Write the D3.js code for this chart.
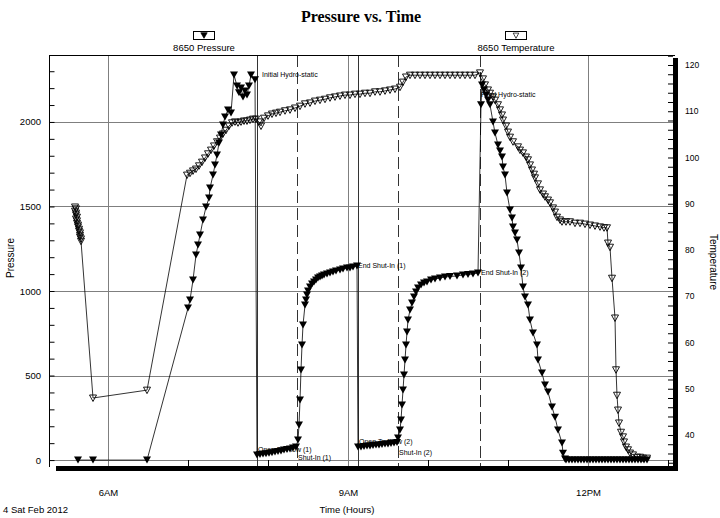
<!DOCTYPE html>
<html>
<head>
<meta charset="utf-8">
<script src="https://cdn.jsdelivr.net/npm/d3@7"></script>
<style>
  body { margin: 0; background: #fff; }
  svg { display: block; font-family: "Liberation Sans", Arial, sans-serif; }
</style>
</head>
<body>
<svg id="chart" width="720" height="518"></svg>
<script>
// time is decimal hours on Sat 4 Feb 2012
const pressure = [
  [5.625, 0], [5.8125, 0], [6.4875, 0],
  [7.0, 899], [7.025, 947], [7.0625, 1065], [7.1, 1213], [7.125, 1272], [7.15, 1331],
  [7.1875, 1420], [7.225, 1497], [7.2625, 1550], [7.275, 1609], [7.3125, 1686],
  [7.3375, 1746], [7.3625, 1805], [7.3875, 1876], [7.4125, 1923], [7.4375, 1982],
  [7.4625, 2030], [7.5, 2071], [7.5375, 2053],
  [7.575, 2278], [7.6125, 2213], [7.6375, 2172], [7.6625, 2201], [7.6875, 2148],
  [7.7125, 2183], [7.7375, 2160], [7.7625, 2213], [7.7875, 2278], [7.8375, 2249],
  [7.8625, 30], [7.9, 33], [7.9375, 36], [7.975, 38], [8.0125, 41], [8.05, 44],
  [8.0875, 47], [8.125, 50], [8.1625, 53], [8.2, 59], [8.2375, 62], [8.275, 65],
  [8.3125, 71], [8.35, 77],
  [8.375, 118], [8.3875, 207], [8.4, 355], [8.4125, 533], [8.425, 680], [8.4375, 799],
  [8.4625, 917], [8.475, 947], [8.4875, 976], [8.5, 1000], [8.525, 1024], [8.55, 1041],
  [8.575, 1053], [8.6, 1065], [8.625, 1077], [8.65, 1083], [8.675, 1089], [8.7, 1095],
  [8.7375, 1101], [8.775, 1107], [8.8125, 1112], [8.85, 1118], [8.9, 1124],
  [8.9375, 1130], [8.9875, 1136], [9.025, 1136], [9.0625, 1142], [9.1125, 1148],
  [9.125, 77], [9.1625, 77], [9.2, 80], [9.2375, 83], [9.275, 83], [9.3125, 86],
  [9.35, 89], [9.3875, 89], [9.425, 92], [9.4625, 95], [9.5, 95], [9.5375, 98],
  [9.575, 101], [9.6125, 104],
  [9.625, 130], [9.65, 178], [9.6625, 237], [9.675, 325], [9.6875, 414], [9.7, 503],
  [9.7125, 592], [9.725, 680], [9.7375, 757], [9.75, 828], [9.775, 888], [9.8, 929],
  [9.825, 964], [9.85, 994], [9.875, 1018], [9.9125, 1035], [9.95, 1047],
  [9.9875, 1053], [10.0375, 1065], [10.0875, 1071], [10.15, 1077], [10.2125, 1083],
  [10.275, 1086], [10.3625, 1089], [10.4375, 1095], [10.5, 1098], [10.5625, 1101],
  [10.625, 1107],
  [10.6625, 2101], [10.675, 2219], [10.7, 2189], [10.725, 2160], [10.75, 2130],
  [10.775, 2101], [10.8125, 2000], [10.8375, 1935], [10.875, 1864], [10.9, 1828],
  [10.925, 1793], [10.9375, 1734], [10.9625, 1686], [10.9875, 1580], [11.025, 1479],
  [11.05, 1432], [11.0625, 1379], [11.0875, 1343], [11.1125, 1302], [11.1375, 1225],
  [11.1625, 1136], [11.1875, 1024], [11.2125, 964], [11.25, 917], [11.275, 828],
  [11.3125, 751], [11.3625, 680], [11.375, 592], [11.425, 515], [11.4625, 444],
  [11.5, 402], [11.55, 314], [11.5875, 254], [11.625, 178], [11.675, 101],
  [11.6875, 41], [11.7125, 6],
  [11.725, 0], [11.7625, 0], [11.8, 0], [11.8375, 0], [11.875, 0], [11.9125, 0],
  [11.95, 0], [11.9875, 0], [12.025, 0], [12.0625, 0], [12.1, 0], [12.1375, 0],
  [12.175, 0], [12.2125, 0], [12.25, 0], [12.2875, 0], [12.325, 0], [12.3625, 0],
  [12.4, 0], [12.4375, 0], [12.475, 0], [12.5125, 0], [12.55, 0], [12.5875, 0],
  [12.625, 0], [12.6625, 0], [12.7, 0], [12.7375, 0],
];

const temperature = [
  [5.5875, 89.3], [5.6, 88.9], [5.5875, 88.4], [5.6, 88.0], [5.6, 87.6], [5.6125, 87.1],
  [5.6, 86.7], [5.6125, 86.3], [5.6125, 85.8], [5.625, 85.4], [5.625, 85.0],
  [5.6375, 84.5], [5.6375, 84.1], [5.65, 83.7], [5.65, 83.2], [5.65, 82.8],
  [5.6625, 82.4], [5.6625, 81.9],
  [5.8125, 48.0], [6.4875, 49.7], [6.9875, 96.2],
  [7.025, 96.6], [7.0625, 97.1], [7.1, 97.5], [7.1375, 98.2], [7.175, 99.0],
  [7.2125, 99.9], [7.25, 100.8], [7.2875, 101.6], [7.325, 102.5], [7.3625, 103.4],
  [7.4, 104.2], [7.4375, 105.1], [7.475, 105.9], [7.5125, 106.8], [7.55, 107.5],
  [7.5875, 107.7], [7.625, 107.5], [7.6625, 107.7], [7.7, 107.9], [7.7375, 107.9],
  [7.775, 108.1], [7.8125, 108.3], [7.85, 108.3], [7.8875, 107.7], [7.9125, 106.8],
  [7.95, 108.5], [8.0, 109.0], [8.05, 109.4], [8.1, 109.6], [8.15, 109.8],
  [8.2125, 110.1], [8.275, 110.3], [8.3375, 110.7], [8.4, 111.1], [8.4625, 111.6],
  [8.525, 111.8], [8.5875, 112.2], [8.65, 112.4], [8.7125, 112.6], [8.775, 112.9],
  [8.8375, 113.1], [8.9, 113.3], [8.9625, 113.5], [9.025, 113.5], [9.0875, 113.7],
  [9.15, 113.7], [9.2125, 113.9], [9.275, 113.9], [9.3375, 114.2], [9.4, 114.2],
  [9.4625, 114.4], [9.525, 114.6], [9.5875, 114.8], [9.65, 115.2], [9.6875, 116.3],
  [9.725, 117.4], [9.775, 117.8],
  [9.8375, 117.8], [9.9, 117.8], [9.9625, 117.8], [10.025, 117.8], [10.0875, 117.8],
  [10.15, 117.8], [10.2125, 117.8], [10.275, 117.8], [10.3375, 117.8], [10.4, 117.8],
  [10.4625, 117.8], [10.525, 117.8], [10.5875, 117.8],
  [10.65, 118.3], [10.6875, 117.0], [10.7125, 115.7], [10.75, 114.6], [10.775, 113.9],
  [10.8125, 113.1], [10.8375, 112.4], [10.875, 111.4], [10.9, 110.3], [10.925, 109.2],
  [10.9375, 108.1], [10.975, 106.8], [11.0, 105.5], [11.025, 104.4], [11.0625, 103.4],
  [11.125, 102.3], [11.15, 101.6], [11.1875, 101.0], [11.225, 100.1], [11.25, 99.5],
  [11.275, 98.4], [11.3, 97.3], [11.325, 96.4], [11.3375, 95.6], [11.375, 94.3],
  [11.4, 93.0], [11.4375, 92.1], [11.4625, 91.5], [11.5, 90.8], [11.525, 90.2],
  [11.5625, 89.1], [11.5875, 88.2], [11.6125, 87.1], [11.65, 86.5], [11.675, 86.1],
  [11.725, 86.1], [11.775, 86.1], [11.8375, 85.8], [11.9, 85.8], [11.9625, 85.6],
  [12.025, 85.4], [12.0875, 85.2], [12.15, 85.0], [12.2, 84.8], [12.2375, 84.8],
  [12.25, 81.5], [12.275, 80.6], [12.3, 73.9], [12.3375, 65.3], [12.35, 54.1],
  [12.3625, 48.6], [12.375, 45.4], [12.3875, 42.6], [12.4125, 40.6], [12.4375, 39.6],
  [12.45, 38.5], [12.475, 37.4], [12.5, 36.8], [12.525, 36.1], [12.5625, 35.7],
  [12.6125, 35.2], [12.65, 35.2], [12.6875, 35.0], [12.7375, 35.0],
];

// test events (vertical markers)
const eventTimes = [7.8625, 8.3625, 9.125, 9.625, 10.65];
const eventKinds = ["flow", "shut", "flow", "shut", "hydro"];

const noteText = [
  "Initial Hydro-static", "Open To Flow (1)", "Shut-In (1)", "End Shut-In (1)",
  "Open To Flow (2)", "Shut-In (2)", "End Shut-In (2)", "Final Hydro-static",
];
const noteTime = [7.8625, 7.8625, 8.3625, 9.1125, 9.125, 9.625, 10.65, 10.65];
const notePressure = [2278, 30, 77, 1148, 77, 104, 1107, 2160];

const pressureTicks = [0, 500, 1000, 1500, 2000];
const tempTicks = [40, 50, 60, 70, 80, 90, 100, 110, 120];
const timeTicks = [6, 9, 12];

const base = new Date(2012, 1, 4);
const toDate = (h) => new Date(+base + h * 36e5);

const plotLeft = 49;
const plotRight = 675;
const plotTop = 55;
const plotBottom = 467;

const x = d3.scaleTime().domain([toDate(5.2625), toDate(13.0875)]).range([plotLeft, plotRight]);
const yP = d3.scaleLinear().domain([-41, 2396]).range([plotBottom, plotTop]);
const yT = d3.scaleLinear().domain([33.08, 122.16]).range([plotBottom, plotTop]);

const svg = d3.select("#chart");
const gridColor = "#7f7f7f";

svg.append("defs").append("clipPath").attr("id", "plot")
  .append("rect").attr("x", plotLeft).attr("y", plotTop)
  .attr("width", plotRight - 2 - plotLeft).attr("height", plotBottom - 1 - plotTop);

// grid
svg.append("g").selectAll("line").data(pressureTicks).join("line")
  .attr("x1", plotLeft).attr("x2", plotRight - 2)
  .attr("y1", (d) => Math.round(yP(d)) + 0.5).attr("y2", (d) => Math.round(yP(d)) + 0.5)
  .attr("stroke", gridColor);
svg.append("g").selectAll("line").data(timeTicks).join("line")
  .attr("x1", (d) => Math.round(x(toDate(d))) + 0.5).attr("x2", (d) => Math.round(x(toDate(d))) + 0.5)
  .attr("y1", plotTop).attr("y2", plotBottom)
  .attr("stroke", gridColor);

// event lines
svg.append("g").selectAll("line").data(eventTimes).join("line")
  .attr("x1", (d) => Math.round(x(toDate(d))) + 0.5).attr("x2", (d) => Math.round(x(toDate(d))) + 0.5)
  .attr("y1", plotTop).attr("y2", plotBottom)
  .attr("stroke", "#333")
  .attr("stroke-dasharray", (d, i) => (eventKinds[i] === "flow" ? null : "12,5"));

// frame
svg.append("line").attr("x1", plotLeft + 0.5).attr("x2", plotLeft + 0.5)
  .attr("y1", plotTop).attr("y2", plotBottom).attr("stroke", "#000");
svg.append("line").attr("x1", plotLeft).attr("x2", plotRight)
  .attr("y1", plotTop + 0.5).attr("y2", plotTop + 0.5).attr("stroke", "#000");
svg.append("rect").attr("x", plotRight - 2).attr("y", plotTop + 3)
  .attr("width", 5).attr("height", plotBottom - plotTop + 1).attr("fill", "#000");
svg.append("rect").attr("x", plotLeft + 7).attr("y", plotBottom - 1)
  .attr("width", plotRight - plotLeft - 4).attr("height", 5).attr("fill", "#000");

// axes
const axisFont = (g, size) => {
  g.select(".domain").remove();
  g.selectAll("text").attr("font-family", "Liberation Sans, Arial, sans-serif")
    .attr("font-size", size).attr("fill", "#000");
};
svg.append("g").attr("transform", `translate(${plotLeft},0)`)
  .call(d3.axisLeft(yP).tickValues(pressureTicks).tickSize(0).tickPadding(8)
    .tickFormat(d3.format("d")))
  .call((g) => axisFont(g, 9.5));
svg.append("g").attr("transform", `translate(${plotLeft + 0.5},0)`)
  .call(d3.axisRight(yP).tickValues(d3.range(0, 2400, 100)).tickSize(5).tickFormat(""))
  .call((g) => g.select(".domain").remove());

svg.append("g").attr("transform", `translate(${plotRight + 3},0)`)
  .call(d3.axisRight(yT).tickValues(tempTicks).tickSize(0).tickPadding(7))
  .call((g) => axisFont(g, 8.5));
svg.append("g").attr("transform", `translate(${plotRight - 2},0)`)
  .call(d3.axisLeft(yT).tickValues(d3.range(34, 123, 2)).tickSize(5).tickFormat(""))
  .call((g) => g.select(".domain").remove());

svg.append("g").attr("transform", `translate(0,${plotBottom + 4})`)
  .call(d3.axisBottom(x).tickValues(timeTicks.map(toDate)).tickSize(0).tickPadding(18)
    .tickFormat(d3.timeFormat("%-I%p")))
  .call((g) => axisFont(g, 9.5));
svg.append("g").attr("transform", `translate(0,${plotBottom - 1})`)
  .call(d3.axisTop(x).tickValues(d3.range(6, 14).filter((h) => h % 3).map(toDate))
    .tickSize(6).tickFormat(""))
  .call((g) => g.select(".domain").remove());

// annotations
svg.append("g").selectAll("text").data(noteText).join("text")
  .attr("x", (d, i) => x(toDate(noteTime[i])) + (i === 0 ? 5 : 1))
  .attr("y", (d, i) => yP(notePressure[i]) + (d.startsWith("Shut") ? 13 : d.startsWith("Open") ? -3 : 2))
  .attr("font-size", 7).attr("fill", "#000")
  .text((d) => d);

// series
const plot = svg.append("g").attr("clip-path", "url(#plot)");
const lineP = d3.line().x((d) => x(toDate(d[0]))).y((d) => yP(d[1]));
const lineT = d3.line().x((d) => x(toDate(d[0]))).y((d) => yT(d[1]));

plot.append("path").attr("d", lineT(temperature)).attr("fill", "none")
  .attr("stroke", "#000").attr("stroke-width", 0.8);
plot.append("path").attr("d", lineP(pressure)).attr("fill", "none")
  .attr("stroke", "#000").attr("stroke-width", 0.8);

const openTri = "M-3.5,-3L3.5,-3L0,3.5Z";
const solidTri = "M-4,-3.5L4,-3.5L0,3.5Z";

plot.append("g").selectAll("path").data(temperature).join("path")
  .attr("transform", (d) => `translate(${x(toDate(d[0]))},${yT(d[1])})`)
  .attr("d", openTri).attr("fill", "none").attr("stroke", "#000").attr("stroke-width", 0.9);
plot.append("g").selectAll("path").data(pressure).join("path")
  .attr("transform", (d) => `translate(${x(toDate(d[0]))},${yP(d[1])})`)
  .attr("d", solidTri).attr("fill", "#000");

// title, legend, labels
svg.append("text").attr("x", 361).attr("y", 22).attr("text-anchor", "middle")
  .attr("font-family", "Liberation Serif, Times New Roman, serif")
  .attr("font-size", 16).attr("font-weight", "bold").text("Pressure vs. Time");

const legend = [
  { name: "8650 Pressure", cx: 204, mark: solidTri, fill: "#000" },
  { name: "8650 Temperature", cx: 516, mark: openTri, fill: "#fff" },
];
const lg = svg.append("g").selectAll("g").data(legend).join("g")
  .attr("transform", (d) => `translate(${d.cx},0)`);
lg.append("rect").attr("x", -10.5).attr("y", 31.5).attr("width", 21).attr("height", 8)
  .attr("fill", "#fff").attr("stroke", "#000");
lg.append("path").attr("d", (d) => d.mark).attr("transform", "translate(0,35.5) scale(0.8)")
  .attr("fill", (d) => d.fill).attr("stroke", "#000").attr("stroke-width", 0.9);
lg.append("text").attr("y", 51).attr("text-anchor", "middle").attr("font-size", 9.5)
  .text((d) => d.name);

svg.append("text").attr("transform", "translate(14,258) rotate(-90)").attr("text-anchor", "middle")
  .attr("font-size", 10).text("Pressure");
svg.append("text").attr("transform", "translate(710,262) rotate(90)").attr("text-anchor", "middle")
  .attr("font-size", 10).text("Temperature");
svg.append("text").attr("x", 347).attr("y", 513).attr("text-anchor", "middle")
  .attr("font-size", 9.5).text("Time (Hours)");
svg.append("text").attr("x", 3).attr("y", 513).attr("font-size", 9.5).text("4 Sat Feb 2012");
</script>
</body>
</html>
